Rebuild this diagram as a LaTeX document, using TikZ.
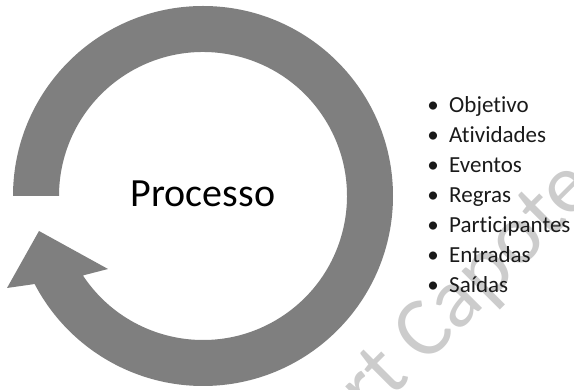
\documentclass[tikz,border=0pt]{standalone}
\usepackage{fontspec}
\setmainfont{Carlito}[Ligatures={NoCommon,NoContextual}]
\usepackage{xcolor}
\usetikzlibrary{calc}
\definecolor{vgray}{HTML}{7f7f7f}
\definecolor{vlightgray}{HTML}{cccccc}
\definecolor{vblack}{HTML}{1a1a1a}
\tikzset{
	listitem/.style={anchor=base west, inner sep=0, text=vblack, font=\fontsize{23}{23}\selectfont},
	listbullet/.style={anchor=base, inner sep=0, text=vblack, font=\fontsize{23}{23}\selectfont}
}

\begin{document}
\begin{tikzpicture}[x=1pt, y=1pt]
		\useasboundingbox (0,0) rectangle (574,390);
		\clip (0,0) rectangle (574,390);
		\coordinate (O) at (203,194);
		\coordinate (A) at (7,102);
		\coordinate (B) at (39,159);
		\coordinate (C) at (108,121);
		\fill[color=vgray] ($(O)+(180:190)$) arc (180:-152.4:190) -- (A) -- (B) -- (C) -- ($(O)+(-146.5:144)$) arc (-146.5:180:144) -- cycle;
		\node[rotate=45, inner sep=0, text=vlightgray, font=\fontsize{85}{85}\selectfont] (marca) at (470,99) {rt Capote};
		\node[anchor=base, inner sep=0, text=black, font=\fontsize{40}{40}\selectfont] (processo) at (203,183) {Processo};
		\node[listbullet] (b1) at (433,277) {\textbullet};
		\node[listbullet] (b2) at (433,247) {\textbullet};
		\node[listbullet] (b3) at (433,217) {\textbullet};
		\node[listbullet] (b4) at (433,187) {\textbullet};
		\node[listbullet] (b5) at (433,157) {\textbullet};
		\node[listbullet] (b6) at (433,127) {\textbullet};
		\node[listbullet] (b7) at (433,97) {\textbullet};
		\node[listitem] (objetivo) at (449,277) {Objetivo};
		\node[listitem] (atividades) at (449,247) {Atividades};
		\node[listitem] (eventos) at (449,217) {Eventos};
		\node[listitem] (regras) at (449,187) {Regras};
		\node[listitem] (participantes) at (449,157) {Participantes};
		\node[listitem] (entradas) at (449,127) {Entradas};
		\node[listitem] (saidas) at (449,97) {Saídas};
	\end{tikzpicture}
\end{document}
